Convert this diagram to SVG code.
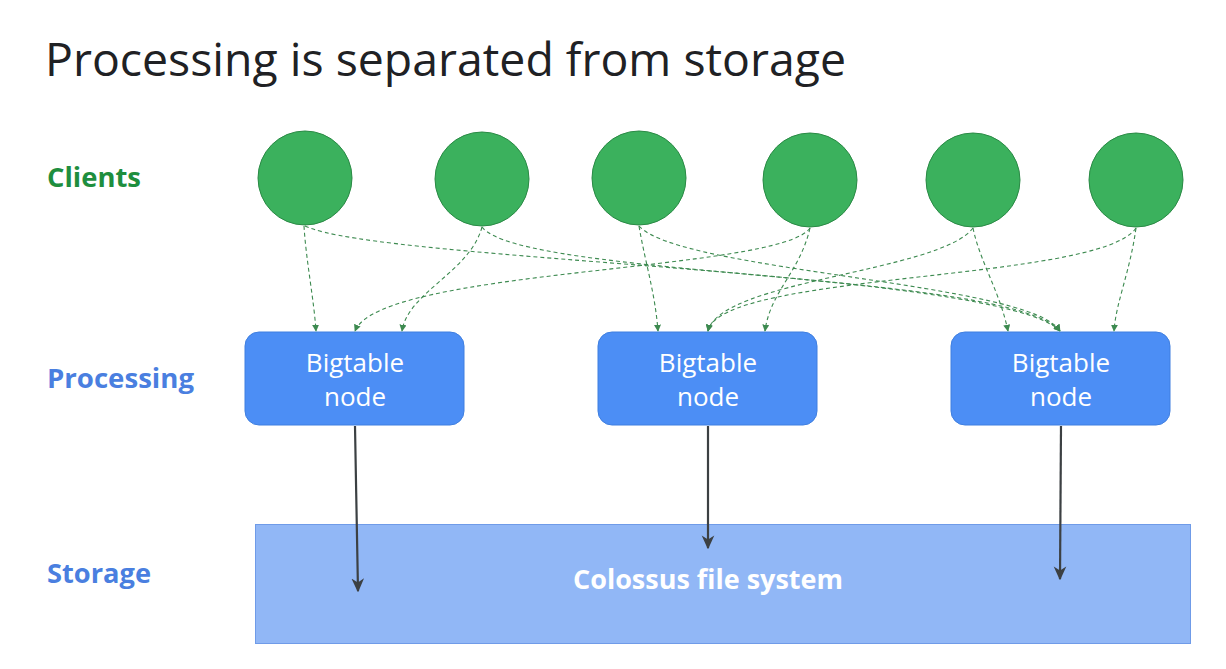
<svg xmlns="http://www.w3.org/2000/svg" width="1226" height="669" viewBox="0 0 1226 669">
<style>
.title{font-family:"Open Sans","Liberation Sans",sans-serif;font-size:45px;fill:#202124}
.lbl{font-family:"Open Sans","Liberation Sans",sans-serif;font-size:26px;font-weight:bold}
.client{fill:#3bb15d;stroke:#2a8a45;stroke-width:1}
.node{fill:#4c8ef5;stroke:#3f7fe0;stroke-width:1}
.ntext{font-family:"Open Sans","Liberation Sans",sans-serif;font-size:26px;fill:#ffffff;text-anchor:middle}
.dash{fill:none;stroke:#3d8a50;stroke-width:1.1;stroke-dasharray:4 3;marker-end:url(#ga)}
.dark{fill:none;stroke:#3c4043;stroke-width:2.2;marker-end:url(#da)}
</style>
<defs>
<marker id="ga" viewBox="0 0 10 10" refX="9" refY="5" markerWidth="7" markerHeight="7" markerUnits="userSpaceOnUse" orient="auto"><path d="M0,0 L10,5 L0,10 z" fill="#3d8a50"/></marker>
<marker id="da" viewBox="0 0 10 10" refX="9" refY="5" markerWidth="14" markerHeight="14" markerUnits="userSpaceOnUse" orient="auto"><path d="M0,0.5 L10,5 L0,9.5 L3,5 z" fill="#3c4043"/></marker>
</defs>
<rect width="1226" height="669" fill="#ffffff"/>
<text class="title" x="45" y="76" textLength="801" lengthAdjust="spacingAndGlyphs">Processing is separated from storage</text>
<text class="lbl" x="47" y="187" fill="#1e8e3e" textLength="94" lengthAdjust="spacingAndGlyphs">Clients</text>
<text class="lbl" x="47" y="388" fill="#4a7fe0" textLength="147" lengthAdjust="spacingAndGlyphs">Processing</text>
<text class="lbl" x="47" y="583" fill="#4a7fe0" textLength="104" lengthAdjust="spacingAndGlyphs">Storage</text>

<g id="storage">
<rect x="255.5" y="524.5" width="935" height="119" fill="#91b7f6" stroke="#6f9be8" stroke-width="1"/>
<text class="lbl" x="708" y="589" fill="#ffffff" text-anchor="middle" textLength="270" lengthAdjust="spacingAndGlyphs">Colossus file system</text>
</g>

<g id="client1"><circle class="client" cx="305" cy="178" r="47"/></g>
<g id="client2"><circle class="client" cx="482" cy="179" r="47"/></g>
<g id="client3"><circle class="client" cx="639" cy="178" r="47"/></g>
<g id="client4"><circle class="client" cx="810" cy="180" r="47"/></g>
<g id="client5"><circle class="client" cx="973" cy="180" r="47"/></g>
<g id="client6"><circle class="client" cx="1136" cy="180" r="47"/></g>

<g id="node1"><rect class="node" x="245" y="332" width="219" height="93" rx="14"/><text class="ntext" x="355" y="372">Bigtable</text><text class="ntext" x="355" y="406">node</text></g>
<g id="node2"><rect class="node" x="598" y="332" width="219" height="93" rx="14"/><text class="ntext" x="708" y="372">Bigtable</text><text class="ntext" x="708" y="406">node</text></g>
<g id="node3"><rect class="node" x="951" y="332" width="219" height="93" rx="14"/><text class="ntext" x="1061" y="372">Bigtable</text><text class="ntext" x="1061" y="406">node</text></g>

<g id="connectors">
<path class="dash" d="M304,226 C306,260 314,300 316,331"/>
<path class="dash" d="M305,226 C380,262 1000,270 1060,331"/>
<path class="dash" d="M482,227 C470,272 408,292 402,331"/>
<path class="dash" d="M482,227 C520,278 1010,272 1060,331"/>
<path class="dash" d="M639,226 C645,262 655,292 658,331"/>
<path class="dash" d="M639,226 C680,272 1030,282 1060,331"/>
<path class="dash" d="M810,228 C780,272 380,268 355,331"/>
<path class="dash" d="M810,228 C800,272 770,292 765,331"/>
<path class="dash" d="M973,228 C940,272 720,280 708,331"/>
<path class="dash" d="M973,228 C980,262 1000,292 1008,331"/>
<path class="dash" d="M1136,228 C1100,282 720,272 708,331"/>
<path class="dash" d="M1136,228 C1130,272 1116,302 1114,331"/>
<path class="dark" d="M355,426 C356,480 357,540 358,591"/>
<path class="dark" d="M708,426 L708,548"/>
<path class="dark" d="M1061,426 C1061,480 1060,530 1060,579"/>
</g>
</svg>
